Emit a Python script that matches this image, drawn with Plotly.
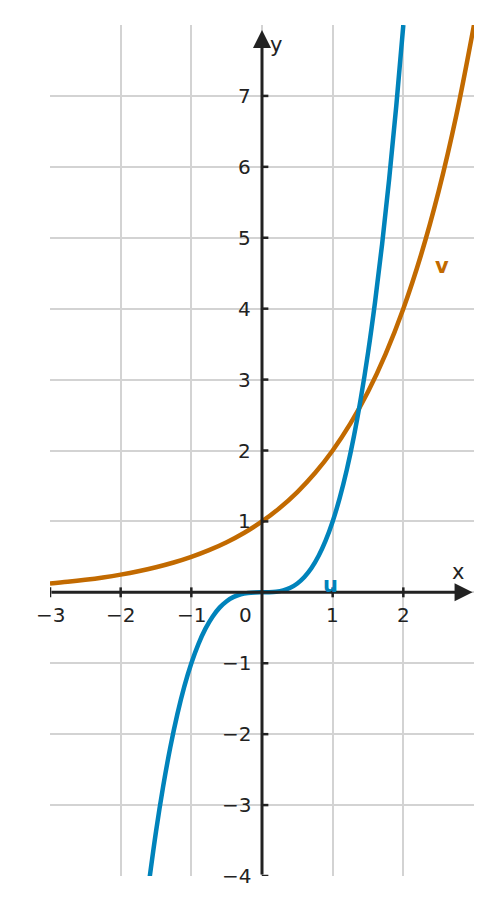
import plotly.graph_objects as go

u_x = [-1.6,-1.5,-1.4,-1.3,-1.2,-1.1,-1.0,-0.9,-0.8,-0.7,-0.6,-0.5,-0.4,-0.3,-0.2,-0.1,0.0,
       0.1,0.2,0.3,0.4,0.5,0.6,0.7,0.8,0.9,1.0,1.1,1.2,1.3,1.4,1.5,1.6,1.7,1.8,1.9,2.0]
u_y = [-4.096,-3.375,-2.744,-2.197,-1.728,-1.331,-1.0,-0.729,-0.512,-0.343,-0.216,-0.125,-0.064,-0.027,-0.008,-0.001,0.0,
       0.001,0.008,0.027,0.064,0.125,0.216,0.343,0.512,0.729,1.0,1.331,1.728,2.197,2.744,3.375,4.096,4.913,5.832,6.859,8.0]
v_x = [-3,-2.75,-2.5,-2.25,-2,-1.75,-1.5,-1.25,-1,-0.75,-0.5,-0.25,0,0.25,0.5,0.75,1,1.25,1.5,1.75,2,2.25,2.5,2.75,3]
v_y = [0.125,0.1487,0.1768,0.2102,0.25,0.2973,0.3536,0.4204,0.5,0.5946,0.7071,0.8409,1,1.1892,1.4142,1.6818,2,
       2.3784,2.8284,3.3636,4,4.7568,5.6569,6.7272,8]
x_ticks = [-3,-2,-1,1,2]
y_ticks = [-4,-3,-2,-1,1,2,3,4,5,6,7]

BLUE = "#0083bb"
ORANGE = "#c26a00"
INK = "#222222"
F = "DejaVu Sans"
FS = 20

fig = go.Figure()
fig.add_trace(go.Scatter(x=v_x, y=v_y, mode="lines", line=dict(color=ORANGE, width=4.5, shape="spline"), hoverinfo="skip"))
fig.add_trace(go.Scatter(x=u_x, y=u_y, mode="lines", line=dict(color=BLUE, width=4.5, shape="spline"), hoverinfo="skip"))

ann = []
shapes = []
for t in x_ticks:
    shapes.append(dict(type="line", x0=t, x1=t, y0=-0.07, y1=0.07, line=dict(color=INK, width=2.5)))
    ann.append(dict(x=t, y=-0.12, text=("−" if t < 0 else "") + str(abs(t)), showarrow=False,
                    yanchor="top", xanchor="center", font=dict(size=FS, color=INK, family=F)))
for t in y_ticks:
    shapes.append(dict(type="line", x0=0, x1=0.09, y0=t, y1=t, line=dict(color=INK, width=2.5)))
    ann.append(dict(x=-0.13, y=t, text=("−" if t < 0 else "") + str(abs(t)), showarrow=False,
                    xanchor="right", yanchor="middle", font=dict(size=FS, color=INK, family=F)))
ann.append(dict(x=-0.12, y=-0.12, text="0", showarrow=False, xanchor="right", yanchor="top",
                font=dict(size=FS, color=INK, family=F)))
ann.append(dict(x=2.98, y=0, ax=-3, ay=0, axref="x", ayref="y", xref="x", yref="y", text="",
                showarrow=True, arrowhead=2, arrowsize=1.2, arrowwidth=3, arrowcolor=INK))
ann.append(dict(x=0, y=7.93, ax=0, ay=-4, axref="x", ayref="y", xref="x", yref="y", text="",
                showarrow=True, arrowhead=2, arrowsize=1.2, arrowwidth=3, arrowcolor=INK))
ann.append(dict(x=2.78, y=0.28, text="x", showarrow=False, font=dict(size=21, color=INK, family=F)))
ann.append(dict(x=0.2, y=7.72, text="y", showarrow=False, font=dict(size=21, color=INK, family=F)))
ann.append(dict(x=0.97, y=0.1, text="<b>u</b>", showarrow=False, font=dict(size=21, color=BLUE, family=F)))
ann.append(dict(x=2.55, y=4.6, text="<b>v</b>", showarrow=False, font=dict(size=21, color=ORANGE, family=F)))

fig.update_layout(
    width=485, height=897, showlegend=False,
    margin=dict(l=42, r=19, t=17, b=29),
    plot_bgcolor="white", paper_bgcolor="white",
    xaxis=dict(range=[-3, 3], tickvals=list(range(-3, 4)), showticklabels=False, showgrid=True,
               gridcolor="#d3d3d3", gridwidth=1.5, zeroline=False, showline=False, fixedrange=True),
    yaxis=dict(range=[-4, 8], tickvals=list(range(-4, 9)), showticklabels=False, showgrid=True,
               gridcolor="#d3d3d3", gridwidth=1.5, zeroline=False, showline=False, fixedrange=True),
    annotations=ann, shapes=shapes,
)
fig.write_html("out.html")
